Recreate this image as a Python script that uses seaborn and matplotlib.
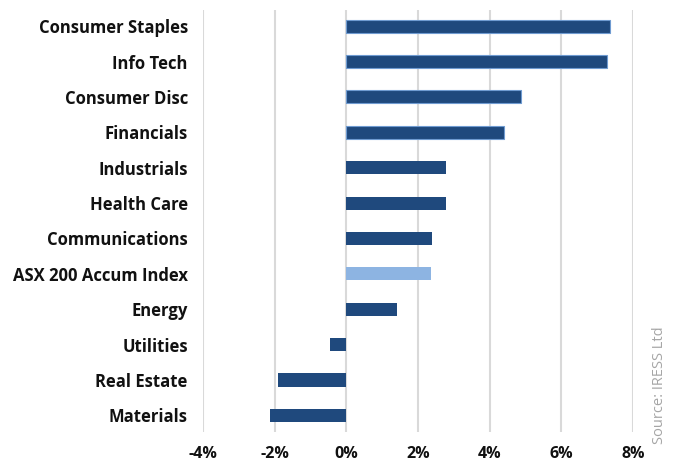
import matplotlib
matplotlib.use("Agg")
import matplotlib.pyplot as plt
import seaborn as sns
import pandas as pd
from matplotlib.ticker import FuncFormatter

categories = ["Consumer Staples", "Info Tech", "Consumer Disc", "Financials",
              "Industrials", "Health Care", "Communications", "ASX 200 Accum Index",
              "Energy", "Utilities", "Real Estate", "Materials"]
values = [7.35, 7.26, 4.86, 4.41, 2.77, 2.77, 2.40, 2.35, 1.42, -0.47, -1.90, -2.12]
x_ticks = [-4, -2, 0, 2, 4, 6, 8]

DARK = "#1F497D"
LIGHT = "#8DB4E2"
colors = [LIGHT if c.startswith("ASX") else DARK for c in categories]

sns.set_theme(style="white")
plt.rcParams['font.family'] = ['Open Sans', 'DejaVu Sans']

df = pd.DataFrame({"cat": categories, "val": values})

fig = plt.figure(figsize=(6.86, 4.65), dpi=100)
ax = fig.add_axes([0.296, 0.071, 0.627, 0.907])
sns.barplot(data=df, x="val", y="cat", hue="cat", palette=colors, legend=False,
            width=0.37, saturation=1, ax=ax, zorder=3)
for i, p in enumerate(ax.patches):
    if i < 4:
        p.set_edgecolor("#6F9BD1")
        p.set_linewidth(0.8)
    else:
        p.set_linewidth(0)

ax.set_xlim(-4, 8)
ax.set_ylim(11.47, -0.45)
ax.set_xticks(x_ticks)
ax.xaxis.set_major_formatter(FuncFormatter(lambda v, _: f"{v:.0f}%"))
ax.grid(axis="x", color="#D9D9D9", linewidth=1.5, zorder=0)
ax.grid(axis="y", visible=False)
for s in ax.spines.values():
    s.set_visible(False)
ax.set_xlabel("")
ax.set_ylabel("")
ax.tick_params(axis="both", length=0)
ax.tick_params(axis="y", pad=11, labelsize=12)
ax.tick_params(axis="x", pad=10, labelsize=11.5)
for t in ax.get_xticklabels() + ax.get_yticklabels():
    t.set_fontweight("bold")
    t.set_color("#111111")

fig.text(0.962, 0.045, "Source: IRESS Ltd", rotation=90, color="#A6A6A6",
         fontsize=10.5, ha="center", va="bottom")

fig.savefig("out.png", dpi=100)
